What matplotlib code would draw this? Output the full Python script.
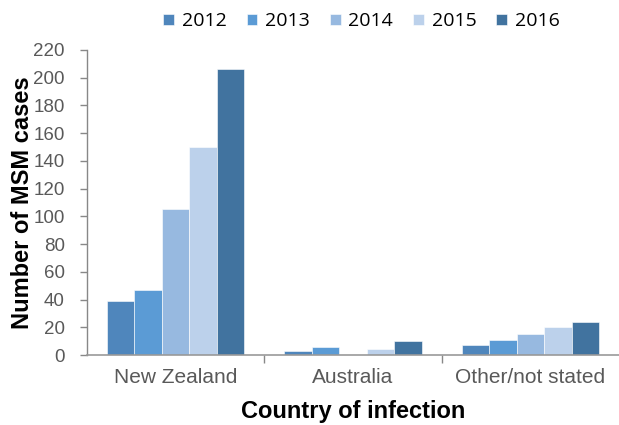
import matplotlib.pyplot as plt
import numpy as np

categories = ["New Zealand", "Australia", "Other/not stated"]
years = ["2012", "2013", "2014", "2015", "2016"]
v2012 = [39, 3, 7]
v2013 = [47, 6, 11]
v2014 = [105, 0, 15]
v2015 = [150, 4, 20]
v2016 = [206, 10, 24]
series = [v2012, v2013, v2014, v2015, v2016]
colors = ["#4F86BC", "#5B9BD5", "#97B9E0", "#BCD1EB", "#41739F"]

fig = plt.figure(figsize=(6.19, 4.25), dpi=100)
ax = fig.add_axes([0.1406, 0.1647, 0.8594, 0.7177])

x = np.arange(len(categories))
group = 0.775
w = group / len(series)
for i, (vals, c) in enumerate(zip(series, colors)):
    ax.bar(x - group / 2 + w * (i + 0.5), vals, width=w, color=c,
           edgecolor="white", linewidth=0.4, label=years[i])

ax.set_xlim(-0.5, len(categories) - 0.5)
ax.set_ylim(0, 220)
ax.set_yticks(range(0, 221, 20))
ax.tick_params(axis="y", labelsize=13.5, colors="#888888", length=5,
               width=1, direction="out", pad=11)
for lab in ax.get_yticklabels():
    lab.set_family("Liberation Sans")
    lab.set_color("#595959")

ax.set_xticks(x)
ax.set_xticklabels(categories, fontsize=15, family="Liberation Sans",
                   color="#595959")
ax.tick_params(axis="x", length=0, pad=9)
ax.set_xticks([0.5, 1.5], minor=True)
ax.tick_params(axis="x", which="minor", length=6, width=1, color="#888888")

for s in ["top", "right"]:
    ax.spines[s].set_visible(False)
ax.spines["left"].set_color("#888888")
ax.spines["bottom"].set_color("#999999")
ax.spines["left"].set_linewidth(1)
ax.spines["bottom"].set_linewidth(1.2)

ax.set_ylabel("Number of MSM cases", fontsize=17, fontweight="bold",
              family="Liberation Sans")
ax.yaxis.set_label_coords(-0.1, 0.5)
ax.set_xlabel("Country of infection", fontsize=17, fontweight="bold",
              family="Liberation Sans")
ax.xaxis.set_label_coords(0.5, -0.148)

leg = fig.legend(loc="center", bbox_to_anchor=(0.584, 0.950), ncol=5,
                 frameon=False, handlelength=0.55,
                 handleheight=0.55, handletextpad=0.4, columnspacing=1.03,
                 prop={"family": "Open Sans", "size": 14})

fig.savefig("out.png", dpi=100, facecolor="white")
